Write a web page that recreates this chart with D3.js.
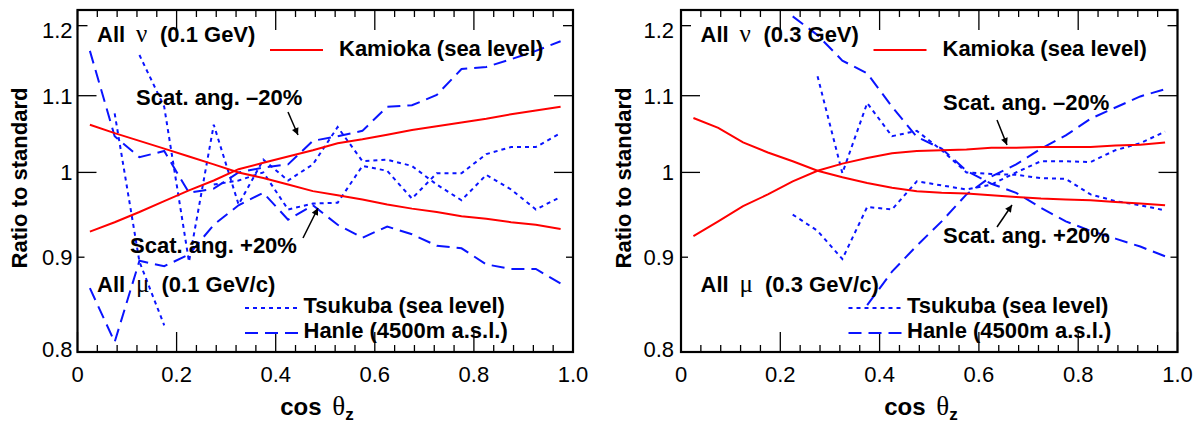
<!DOCTYPE html>
<html><head><meta charset="utf-8">
<script src="https://cdn.jsdelivr.net/npm/d3@7"></script>
<style>body{margin:0;background:#fff} svg{display:block}</style>
</head><body>
<svg id="chart" width="1198" height="424"></svg>
<script>
// cos(theta_z) bin centres
const cosBins = [0.025,0.075,0.125,0.175,0.225,0.275,0.325,0.375,0.425,0.475,
                 0.525,0.575,0.625,0.675,0.725,0.775,0.825,0.875,0.925,0.975];
const xTicks = [0, 0.2, 0.4, 0.6, 0.8, 1.0];
const xTickLabels = ["0", "0.2", "0.4", "0.6", "0.8", "1.0"];
const yTicks = [0.8, 0.9, 1.0, 1.1, 1.2];
const yTickLabels = ["0.8", "0.9", "1", "1.1", "1.2"];

// 0.1 GeV neutrinos / 0.1 GeV/c muons (null = bin outside the plotted range)
const kamMinus1 = [0.929,0.940,0.952,0.965,0.978,0.990,1.004,1.012,1.020,1.028,1.037,1.042,1.048,1.054,1.059,1.064,1.069,1.075,1.080,1.085];
const kamPlus1  = [1.061,1.050,1.040,1.030,1.020,1.010,1.000,0.993,0.985,0.977,0.972,0.967,0.961,0.956,0.952,0.947,0.944,0.940,0.937,0.932];
const tsuMinus1 = [null,1.076,0.895,0.827,null,0.985,0.990,1.000,0.955,0.962,0.963,1.008,1.002,0.968,0.999,0.999,1.023,1.032,1.032,1.050];
const tsuPlus1  = [null,null,1.157,1.085,0.895,1.061,0.961,1.016,0.990,1.010,1.058,1.014,1.016,1.008,0.985,0.966,0.997,0.979,0.955,0.970];
const hanMinus1 = [1.163,1.046,1.019,1.027,0.975,0.980,1.000,1.006,1.010,1.040,1.046,1.053,1.085,1.087,1.101,1.137,1.140,1.151,1.163,1.177];
const hanPlus1  = [0.866,0.810,0.896,0.890,0.903,0.937,0.960,0.975,0.943,0.960,0.937,0.922,0.935,0.926,0.913,0.910,0.892,0.887,0.887,0.871];

// 0.3 GeV neutrinos / 0.3 GeV/c muons
const kamMinus2 = [0.924,0.941,0.959,0.973,0.989,1.002,1.011,1.018,1.024,1.027,1.028,1.029,1.031,1.031,1.032,1.032,1.032,1.034,1.035,1.038];
const kamPlus2  = [1.070,1.057,1.038,1.025,1.014,1.002,0.994,0.987,0.981,0.977,0.975,0.974,0.972,0.970,0.968,0.967,0.966,0.964,0.962,0.960];
const tsuMinus2 = [null,null,null,null,0.949,0.930,0.898,0.958,0.955,0.989,0.984,0.979,0.985,1.000,1.014,1.014,1.013,1.028,1.037,1.052];
const tsuPlus2  = [null,null,null,null,null,1.127,0.999,1.090,1.046,1.053,1.028,1.000,0.998,0.997,0.993,0.992,0.973,0.965,0.960,0.954];
const hanMinus2 = [null,null,null,null,null,null,null,0.848,0.884,0.913,0.941,0.973,0.995,1.010,1.030,1.047,1.069,1.084,1.099,1.109];
const hanPlus2  = [null,null,null,null,1.214,1.186,1.149,1.131,1.085,1.045,1.030,1.002,0.986,0.975,0.957,0.941,0.930,0.921,0.912,0.901];

const RED = "#ff0000", BLUE = "#0a14ff";
const SANS = "'Liberation Sans', Arial, Helvetica, sans-serif";
const SERIF = "'Liberation Serif', 'Times New Roman', serif";

const svg = d3.select("#chart");
svg.append("rect").attr("width", 1198).attr("height", 424).attr("fill", "#fff");

const TOP = 10, BOTTOM = 352;

const panels = [
  { left: 77.5, right: 573, energy: "(0.1 GeV)", momentum: "(0.1 GeV/c)",
    series: { kamMinus: kamMinus1, kamPlus: kamPlus1, tsuMinus: tsuMinus1, tsuPlus: tsuPlus1, hanMinus: hanMinus1, hanPlus: hanPlus1 },
    minusText: [136, 105], minusArrow: [[288,112],[298,135]],
    plusText: [130, 253], plusArrow: [[303,238],[318,208]] },
  { left: 681, right: 1177.5, energy: "(0.3 GeV)", momentum: "(0.3 GeV/c)",
    series: { kamMinus: kamMinus2, kamPlus: kamPlus2, tsuMinus: tsuMinus2, tsuPlus: tsuPlus2, hanMinus: hanMinus2, hanPlus: hanPlus2 },
    minusText: [943, 110], minusArrow: [[997,120],[1007,145]],
    plusText: [943, 243], plusArrow: [[997,227],[1012,205]] }
];

const defs = svg.append("defs");
defs.append("marker").attr("id", "arrowHead")
  .attr("viewBox", "0 0 10 10").attr("refX", 10).attr("refY", 5)
  .attr("markerWidth", 10).attr("markerHeight", 7).attr("markerUnits", "userSpaceOnUse")
  .attr("orient", "auto")
  .append("path").attr("d", "M0,0 L10,5 L0,10 Z").attr("fill", "#000");

const yTickLen = { 0.8: 0, 0.9: 7, 1.0: 19, 1.1: 19, 1.2: 10 };

panels.forEach((p, i) => {
  const x = d3.scaleLinear().domain([0, 1]).range([p.left, p.right]);
  const y = d3.scaleLog().domain([0.8, 1.2236]).range([BOTTOM, TOP]);
  const g = svg.append("g");

  const clipId = "clip" + i;
  defs.append("clipPath").attr("id", clipId)
    .append("rect").attr("x", p.left).attr("y", TOP)
    .attr("width", p.right - p.left).attr("height", BOTTOM - TOP);

  // x ticks: major every 0.2, minor every 0.04, on bottom and top
  const minor = d3.range(0, 1.0001, 0.04);
  const tk = g.append("g").attr("stroke", "#000").attr("stroke-width", 1.3);
  minor.forEach(v => {
    const isMajor = Math.abs(v * 5 - Math.round(v * 5)) < 1e-6;
    const len = isMajor ? 20 : 7;
    tk.append("line").attr("x1", x(v)).attr("x2", x(v)).attr("y1", BOTTOM).attr("y2", BOTTOM - len);
    tk.append("line").attr("x1", x(v)).attr("x2", x(v)).attr("y1", TOP).attr("y2", TOP + len);
  });
  yTicks.forEach(v => {
    const len = yTickLen[v];
    if (!len) return;
    tk.append("line").attr("x1", p.left).attr("x2", p.left + len).attr("y1", y(v)).attr("y2", y(v));
    tk.append("line").attr("x1", p.right).attr("x2", p.right - len).attr("y1", y(v)).attr("y2", y(v));
  });

  // tick labels
  xTicks.forEach((v, k) => {
    g.append("text").attr("x", x(v)).attr("y", 382).attr("text-anchor", "middle")
      .attr("font-family", SANS).attr("font-size", 22).text(xTickLabels[k]);
  });
  const yLabelShift = { 0.8: -3, 1.2: 4 };
  yTicks.forEach((v, k) => {
    g.append("text").attr("x", p.left - (i === 0 ? 5 : 7)).attr("y", y(v) + (yLabelShift[v] || 0))
      .attr("dy", "0.36em").attr("text-anchor", "end")
      .attr("font-family", SANS).attr("font-size", 22).text(yTickLabels[k]);
  });

  // curves
  const line = d3.line().defined(d => d[1] != null).x(d => x(d[0])).y(d => y(d[1]));
  const plot = g.append("g").attr("clip-path", `url(#${clipId})`).attr("fill", "none");
  const styles = {
    kamMinus: { c: RED, dash: null }, kamPlus: { c: RED, dash: null },
    tsuMinus: { c: BLUE, dash: "4,4" }, tsuPlus: { c: BLUE, dash: "4,4" },
    hanMinus: { c: BLUE, dash: "13,7" }, hanPlus: { c: BLUE, dash: "13,7" }
  };
  ["tsuMinus", "tsuPlus", "hanMinus", "hanPlus", "kamMinus", "kamPlus"].forEach(key => {
    const pts = cosBins.map((c, k) => [c, p.series[key][k]]);
    plot.append("path").attr("d", line(pts))
      .attr("stroke", styles[key].c).attr("stroke-width", 2)
      .attr("stroke-dasharray", styles[key].dash);
  });

  // frame
  g.append("rect").attr("x", p.left).attr("y", TOP)
    .attr("width", p.right - p.left).attr("height", BOTTOM - TOP)
    .attr("fill", "none").attr("stroke", "#000").attr("stroke-width", 2.2);

  const L = p.left;
  const bold = sel => sel.attr("font-family", SANS).attr("font-weight", "bold").attr("font-size", 22);

  // header: neutrinos
  bold(g.append("text").attr("x", L + 19.5).attr("y", 42).text("All"));
  g.append("text").attr("x", L + 58.5).attr("y", 42).attr("font-family", SERIF).attr("font-size", 25).text("ν");
  bold(g.append("text").attr("x", L + 82.5).attr("y", 42).text(p.energy));

  // Kamioka legend
  g.append("line").attr("x1", L + 192.5).attr("x2", L + 245.5).attr("y1", 50).attr("y2", 50)
    .attr("stroke", RED).attr("stroke-width", 2);
  bold(g.append("text").attr("x", L + 261.5).attr("y", 55.5).text("Kamioka (sea level)"));

  // muons
  bold(g.append("text").attr("x", L + 19.5).attr("y", 292).text("All"));
  g.append("text").attr("x", L + 58.5).attr("y", 292).attr("font-family", SERIF).attr("font-size", 25).text("μ");
  bold(g.append("text").attr("x", L + 84).attr("y", 292).text(p.momentum));

  // Tsukuba / Hanle legend
  g.append("line").attr("x1", L + 167.5).attr("x2", L + 221.5).attr("y1", 308).attr("y2", 308)
    .attr("stroke", BLUE).attr("stroke-width", 2).attr("stroke-dasharray", "4,4");
  bold(g.append("text").attr("x", L + 226).attr("y", 312.5).text("Tsukuba (sea level)"));
  g.append("line").attr("x1", L + 167.5).attr("x2", L + 221.5).attr("y1", 333).attr("y2", 333)
    .attr("stroke", BLUE).attr("stroke-width", 2).attr("stroke-dasharray", "13,7");
  bold(g.append("text").attr("x", L + 226).attr("y", 338).text("Hanle (4500m a.s.l.)"));

  // scattering-angle annotations
  bold(g.append("text").attr("x", p.minusText[0]).attr("y", p.minusText[1]).text("Scat. ang. \u201320%"));
  bold(g.append("text").attr("x", p.plusText[0]).attr("y", p.plusText[1]).text("Scat. ang. +20%"));
  [p.minusArrow, p.plusArrow].forEach(a => {
    g.append("line").attr("x1", a[0][0]).attr("y1", a[0][1]).attr("x2", a[1][0]).attr("y2", a[1][1])
      .attr("stroke", "#000").attr("stroke-width", 1.5).attr("marker-end", "url(#arrowHead)");
  });

  // axis titles
  const xt = g.append("text").attr("x", (p.left + p.right) / 2 - 45).attr("y", 415)
    .attr("font-family", SANS).attr("font-weight", "bold").attr("font-size", 24);
  xt.append("tspan").text("cos ");
  xt.append("tspan").attr("font-family", SERIF).attr("font-weight", "normal").attr("font-size", 27).attr("dx", 4).text("θ");
  xt.append("tspan").attr("font-size", 17).attr("dy", 5).text("z");

  g.append("text")
    .attr("transform", `translate(${p.left - 50.5},${(TOP + BOTTOM) / 2 - 3}) rotate(-90)`)
    .attr("text-anchor", "middle").attr("font-family", SANS).attr("font-weight", "bold")
    .attr("font-size", 22).text("Ratio to standard");
});
</script>
</body></html>
